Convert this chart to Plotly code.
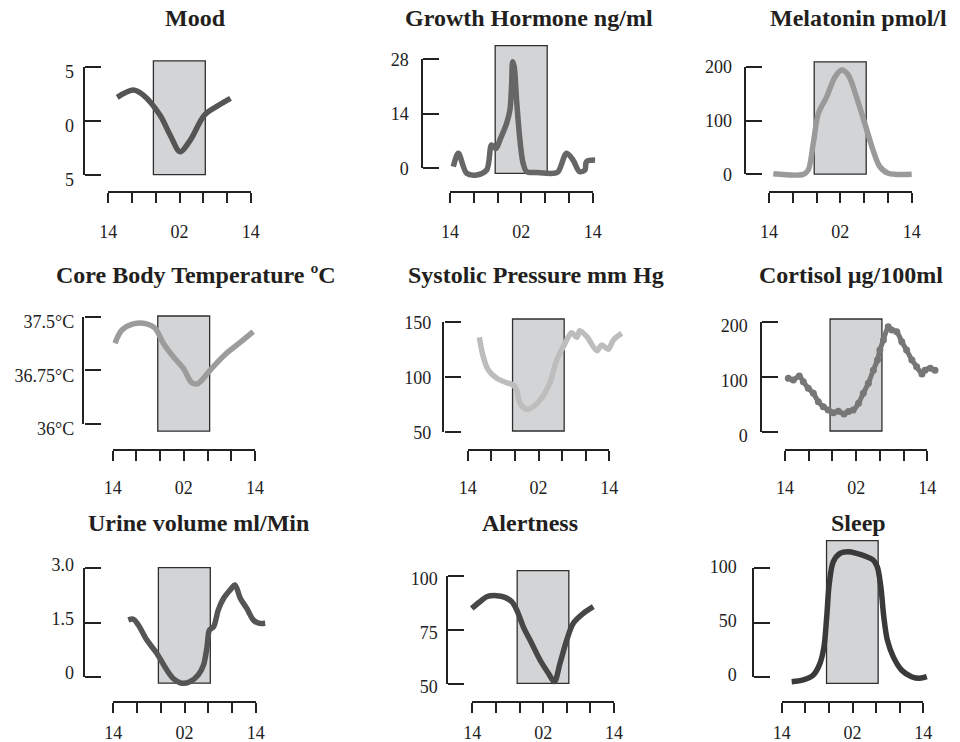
import plotly.graph_objects as go

W, H = 960, 742

# ---------------- data ----------------
titles = ["Mood", "Growth Hormone ng/ml", "Melatonin pmol/l",
          "Core Body Temperature ºC", "Systolic Pressure mm Hg", "Cortisol µg/100ml",
          "Urine volume ml/Min", "Alertness", "Sleep"]

# hours since 14:00
x_tick_hours = [0, 4, 8, 12, 16, 20, 24]
x_tick_text = ["14", "", "", "02", "", "", "14"]
sleep_window = [7.6, 16.35]

mood_h = [1.5, 4.2, 5.9, 8.7, 10.5, 12.1, 13.8, 16.2, 18.5, 20.6]
mood_v = [2.17, 2.84, 2.38, 0.53, -1.4, -2.85, -1.8, 0.53, 1.4, 2.07]

gh_h = [0.56, 1.4, 2.8, 4.48, 6.16, 7.0, 7.73, 8.4, 9.53, 10.08, 10.37, 10.54, 10.8, 11.2,
        11.76, 12.3, 12.9, 14.57, 17.4, 18.2, 19.6, 20.7, 21.8, 22.7, 22.96, 24.4]
gh_v = [0.41, 3.85, -1.28, -1.7, -0.44, 6.0, 5.1, 7.3, 11.6, 15.0, 21.8, 27.4, 26.1, 17.5,
        7.3, 1.28, -0.87, -1.1, -1.28, -0.87, 3.85, 2.1, -0.87, -0.44, 1.7, 2.1]

mel_h = [0.73, 5.77, 6.6, 7.45, 8.3, 9.7, 11.1, 12.2, 13.3, 14.7, 16.1, 17.5, 18.65, 20.05, 24.0]
mel_v = [1, 0, 8, 57.6, 113, 144, 181, 194, 185, 144, 95, 45, 14, 2, 0]

temp_h = [0.39, 1.52, 3.48, 5.74, 7.14, 8.54, 10.23, 11.9, 13.3, 14.2, 15.0, 16.4, 19.2, 21.5, 23.7]
temp_v = [37.13, 37.31, 37.40, 37.40, 37.34, 37.13, 36.94, 36.78, 36.58, 36.56, 36.61, 36.75,
          36.99, 37.14, 37.29]

sys_h = [1.97, 2.64, 3.49, 4.92, 6.61, 7.73, 8.3, 8.86, 10.0, 11.1, 12.5, 13.9, 15.1, 16.5,
         17.6, 18.5, 19.0, 20.2, 21.9, 22.7, 23.8, 24.7, 26.1]
sys_v = [136.4, 118.7, 106.6, 99.1, 95.1, 93, 88.5, 76.4, 70.9, 73.3, 80.9, 94.5, 115.7, 130.9,
         140.5, 136.4, 142.4, 136.9, 124.2, 129.4, 125.5, 133.9, 140]

cort_h = [0.56, 1.4, 2.41, 3.09, 3.93, 4.78, 5.62, 6.46, 7.3, 8.15, 9.0, 9.96, 10.7, 11.5, 12.4,
          13.2, 14.06, 14.9, 15.6, 16.0, 16.6, 17.4, 18.0, 18.85, 19.7, 20.5, 21.4, 22.2, 23.1,
          23.6, 24.5, 25.3]
cort_v = [98.2, 95.1, 102.4, 92, 80, 70.9, 55.6, 46.5, 40.5, 35.7, 38.2, 33.3, 37.6, 40.5, 52.7,
          70.9, 89.1, 113, 131.5, 149.6, 167.8, 192, 186, 183, 164.7, 149.6, 131.5, 119.3, 106,
          113, 116.4, 113]

urine_h = [2.53, 3.38, 4.22, 5.63, 7.32, 9.0, 10.1, 11.5, 12.9, 14.3, 15.2, 15.8, 16.2, 16.9,
           17.7, 18.6, 19.7, 20.5, 21.4, 22.5, 23.6, 24.5, 25.6]
urine_v = [1.57, 1.59, 1.43, 1.02, 0.65, 0.19, -0.05, -0.18, -0.14, 0.05, 0.32, 0.83, 1.29, 1.38,
           1.85, 2.17, 2.4, 2.54, 2.17, 1.89, 1.57, 1.48, 1.48]

alert_h = [-0.1, 1.3, 2.44, 4.14, 5.54, 6.68, 7.53, 8.64, 10.07, 11.47, 12.88, 13.9, 14.86, 16.0,
           17.1, 18.8, 20.5]
alert_v = [85.0, 88.1, 90.4, 90.9, 90.1, 88.1, 84.3, 76.5, 68.8, 61.1, 55.0, 51.1, 59.6, 70.4,
           78.1, 82.7, 85.8]

sleep_h = [1.69, 3.66, 5.36, 6.49, 7.17, 7.63, 8.07, 8.75, 9.88, 11.3, 12.7, 14.4, 15.5, 16.2,
           16.8, 17.3, 17.9, 18.9, 20.3, 22.0, 23.4, 24.6]
sleep_v = [-4.6, -3.0, 1.6, 12.3, 27.7, 55.4, 86.2, 106.1, 113.8, 115.3, 113.8, 110.7, 107.7,
           101.5, 83, 55.4, 33.9, 18.5, 6.2, 0, -1.5, 0]

series_h = [mood_h, gh_h, mel_h, temp_h, sys_h, cort_h, urine_h, alert_h, sleep_h]
series_v = [mood_v, gh_v, mel_v, temp_v, sys_v, cort_v, urine_v, alert_v, sleep_v]

y_ticks = [[-5, 0, 5], [0, 14, 28], [0, 100, 200], [36, 36.75, 37.5], [50, 100, 150],
           [0, 100, 200], [0, 1.5, 3.0], [50, 75, 100], [0, 50, 100]]
y_tick_text = [["5", "0", "5"], ["0", "14", "28"], ["0", "100", "200"],
               ["36°C", "36.75°C", "37.5°C"], ["50", "100", "150"], ["0", "100", "200"],
               ["0", "1.5", "3.0"], ["50", "75", "100"], ["0", "50", "100"]]

# vertical extent of the grey sleep box, in each panel's units
sleep_box_y = [[-4.96, 5.53], [-1.28, 31.5], [0.5, 209], [35.9, 37.51], [51.2, 153],
               [2.4, 206], [-0.18, 3.02], [50.3, 102.5], [-6.1, 125.5]]

# ---------------- layout geometry (pixels) ----------------
geom = [
    dict(bx=84.0, yt=66.7, yb=175.0, xl=191.7, x0=108.3, x1=250.7, ys=10, xs=13, sh=5),
    dict(bx=421.7, yt=59.3, yb=168.3, xl=191.7, x0=450.0, x1=592.7, ys=13, xs=13, sh=0),
    dict(bx=745.0, yt=66.7, yb=174.3, xl=191.7, x0=769.0, x1=911.7, ys=13, xs=13, sh=0),
    dict(bx=83.3, yt=316.7, yb=424.0, xl=450.0, x0=112.7, x1=255.0, ys=9, xs=11, sh=5),
    dict(bx=443.3, yt=322.3, yb=432.3, xl=450.0, x0=467.7, x1=609.3, ys=12, xs=11, sh=0),
    dict(bx=760.7, yt=322.3, yb=432.3, xl=450.0, x0=785.0, x1=927.3, ys=13, xs=11, sh=3),
    dict(bx=84.0, yt=568.3, yb=676.7, xl=701.7, x0=113.3, x1=255.7, ys=10, xs=4, sh=-4),
    dict(bx=446.7, yt=576.0, yb=684.0, xl=701.7, x0=472.3, x1=614.0, ys=9, xs=4, sh=3),
    dict(bx=752.7, yt=568.3, yb=676.7, xl=701.7, x0=781.7, x1=923.3, ys=16, xs=4, sh=-2),
]
title_pos = [(195, 18), (529, 18), (858, 18), (196, 275), (536, 275), (851, 275),
             (198, 523), (530, 523), (858, 523)]
line_colors = ["#555555", "#666666", "#9a9a9a", "#9c9c9c", "#bdbdbd", "#777777",
               "#555555", "#474747", "#3a3a3a"]

FONT = "Liberation Serif"
AX = "#222222"

fig = go.Figure()
layout = dict(
    width=W, height=H, margin=dict(l=0, r=0, t=0, b=0, pad=0, autoexpand=False),
    paper_bgcolor="white", plot_bgcolor="rgba(0,0,0,0)",
    showlegend=False, shapes=[], annotations=[],
    font=dict(family=FONT, size=18, color=AX),
)


def fx(px):
    return px / W


def fy(py):
    return 1 - py / H


def name(prefix, n):
    return prefix if n == 1 else f"{prefix}{n}"


nx = 0
ny = 0
for i in range(9):
    g = geom[i]
    ymin, ymax = y_ticks[i][0], y_ticks[i][-1]
    xd, xk = nx + 1, nx + 2
    yd, yk, yl = ny + 1, ny + 2, ny + 3
    nx += 2
    ny += 3

    pxl = max(g["x0"] - 45, 1)
    pxr = min(g["x1"] + 45, W - 1)
    pyt = max(g["yt"] - 48, 1)
    pyb = g["yb"] + 22
    hx = lambda p: (p - g["x0"]) / (g["x1"] - g["x0"]) * 24
    vy = lambda p: ymin + (g["yb"] - p) / (g["yb"] - g["yt"]) * (ymax - ymin)

    # hidden data axes, scaled identically to the visible bracket axes
    layout[name("xaxis", xd)] = dict(domain=[fx(pxl), fx(pxr)], range=[hx(pxl), hx(pxr)],
                                     visible=False, anchor=name("y", yd), fixedrange=True,
                                     automargin=False)
    layout[name("yaxis", yd)] = dict(domain=[fy(pyb), fy(pyt)], range=[vy(pyb), vy(pyt)],
                                     visible=False, anchor=name("x", xd), fixedrange=True,
                                     automargin=False)

    # detached time axis
    layout[name("xaxis", xk)] = dict(
        domain=[fx(g["x0"]), fx(g["x1"])], range=[0, 24], anchor="free",
        position=fy(g["xl"]), side="bottom", showline=True, linecolor=AX, linewidth=2.4,
        ticks="outside", ticklen=10, tickwidth=2.4, tickcolor=AX,
        tickvals=x_tick_hours, ticktext=x_tick_text, showgrid=False, zeroline=False,
        ticklabelstandoff=g["xs"], tickfont=dict(family=FONT, size=18, color=AX),
        fixedrange=True, automargin=False,
    )
    # bracket y axis: line + right-pointing ticks
    layout[name("yaxis", yk)] = dict(
        domain=[fy(g["yb"]), fy(g["yt"])], range=[ymin, ymax], anchor="free",
        position=fx(g["bx"]), side="right", showline=True, linecolor=AX, linewidth=2.4,
        ticks="outside", ticklen=16, tickwidth=2.4, tickcolor=AX,
        tickvals=y_ticks[i], showticklabels=False, showgrid=False, zeroline=False,
        fixedrange=True, automargin=False,
    )
    # labels of the bracket axis, on the left
    layout[name("yaxis", yl)] = dict(
        domain=[fy(g["yb"]), fy(g["yt"])], range=[ymin, ymax], anchor="free",
        position=fx(g["bx"]), side="left", showline=False, ticks="",
        tickvals=y_ticks[i], ticktext=y_tick_text[i], showgrid=False, zeroline=False,
        ticklabelstandoff=g["ys"], ticklabelshift=g["sh"],
        tickfont=dict(family=FONT, size=18, color=AX),
        fixedrange=True, automargin=False,
    )

    for ya in (yk, yl):
        fig.add_trace(go.Scatter(x=[0, 24], y=[ymin, ymax], xaxis=name("x", xk),
                                 yaxis=name("y", ya), mode="lines", line=dict(width=0),
                                 opacity=0, hoverinfo="skip"))

    layout["shapes"].append(dict(
        type="rect", xref=name("x", xd), yref=name("y", yd),
        x0=sleep_window[0], x1=sleep_window[1],
        y0=sleep_box_y[i][0], y1=sleep_box_y[i][1], fillcolor="#d3d4d6",
        line=dict(color="#2e2e2e", width=1.3), layer="below",
    ))

    if i == 5:
        fig.add_trace(go.Scatter(
            x=series_h[i], y=series_v[i], xaxis=name("x", xd), yaxis=name("y", yd),
            mode="lines+markers", line=dict(color=line_colors[i], width=5, shape="spline",
                                            smoothing=0.6),
            marker=dict(color=line_colors[i], size=7), hoverinfo="skip"))
    else:
        fig.add_trace(go.Scatter(
            x=series_h[i], y=series_v[i], xaxis=name("x", xd), yaxis=name("y", yd),
            mode="lines", line=dict(color=line_colors[i], width=5.5, shape="spline",
                                    smoothing=0.9),
            hoverinfo="skip"))

    tx, ty = title_pos[i]
    layout["annotations"].append(dict(
        text=f"<b>{titles[i]}</b>", x=fx(tx), y=fy(ty), xref="paper", yref="paper",
        xanchor="center", yanchor="middle", showarrow=False,
        font=dict(family=FONT, size=24, color="#231f20"),
    ))

fig.update_layout(**layout)
fig.write_html("out.html")
